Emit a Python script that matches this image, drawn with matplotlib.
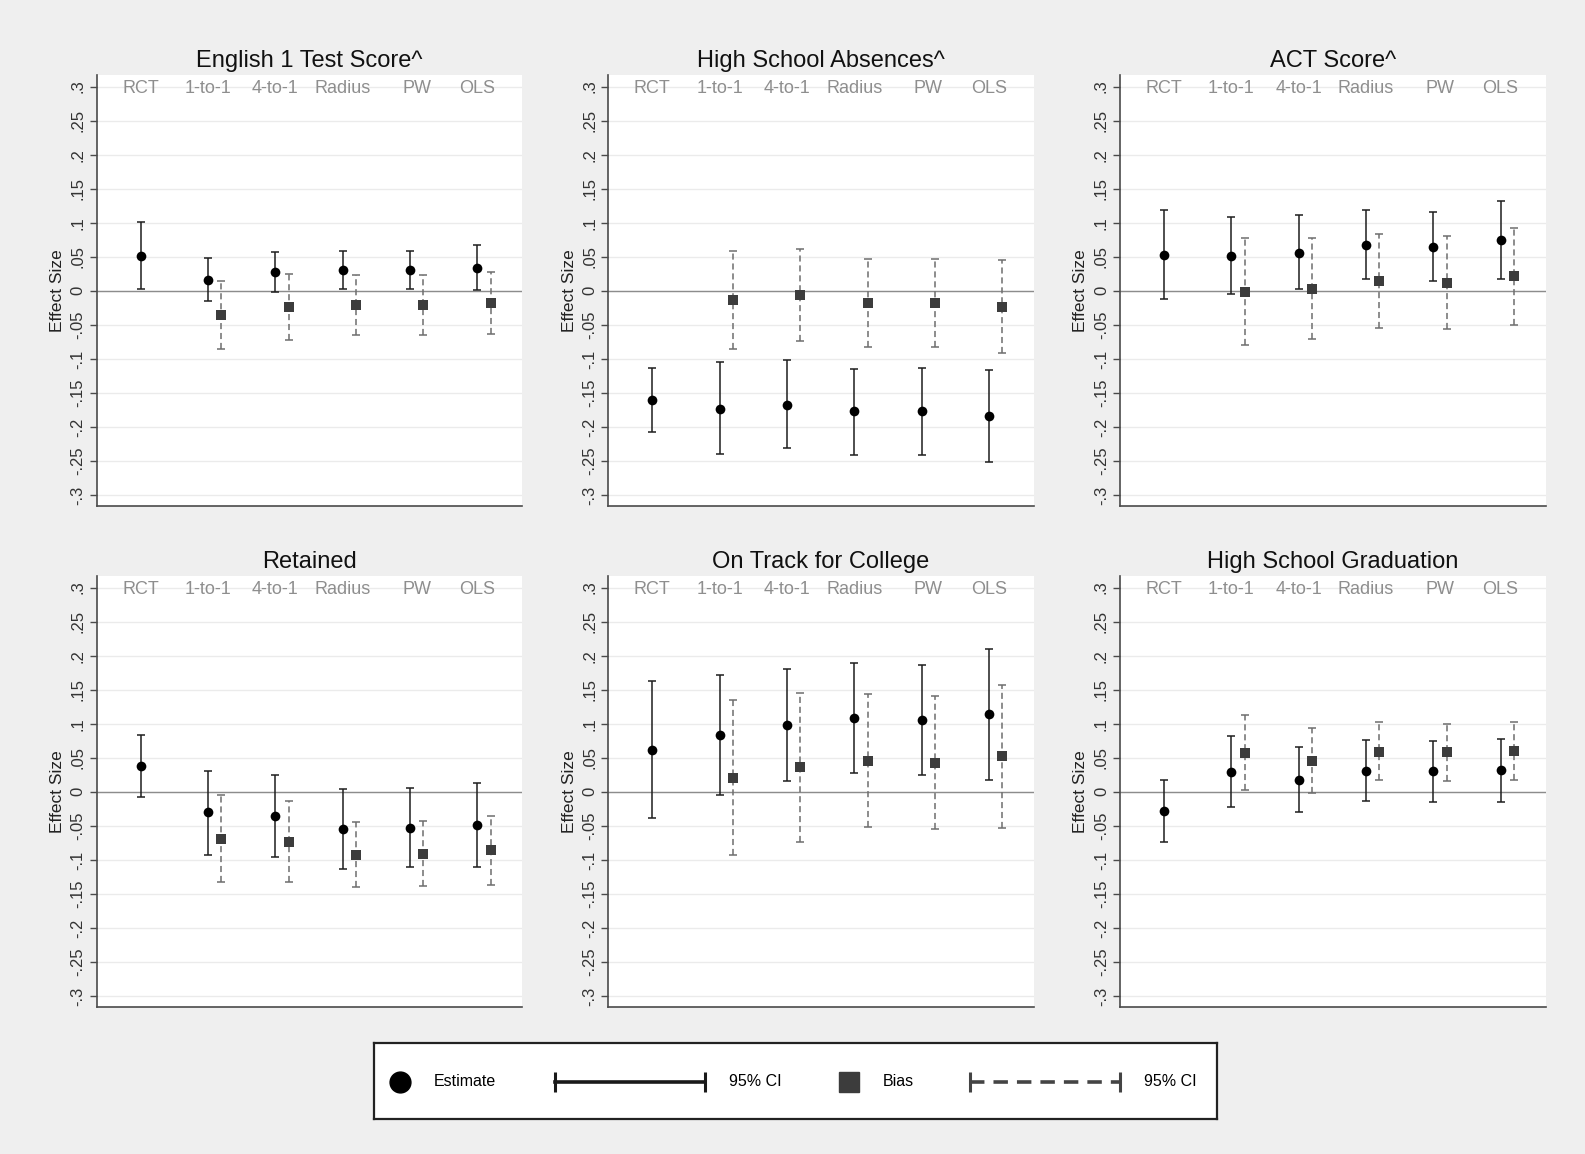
import numpy as np
import matplotlib
matplotlib.use("Agg")
import matplotlib.pyplot as plt
from matplotlib.ticker import FuncFormatter

plt.rcParams['font.family'] = ['Liberation Sans', 'DejaVu Sans']

# ---------------- data ----------------
methods = ["RCT", "1-to-1", "4-to-1", "Radius", "PW", "OLS"]
titles = ["English 1 Test Score^", "High School Absences^", "ACT Score^",
          "Retained", "On Track for College", "High School Graduation"]
yticks = [0.3, 0.25, 0.2, 0.15, 0.1, 0.05, 0.0, -0.05, -0.1, -0.15, -0.2, -0.25, -0.3]

# English 1 Test Score
eng_est = [0.051, 0.016, 0.028, 0.031, 0.031, 0.034]
eng_lo = [0.002, -0.015, -0.001, 0.003, 0.003, 0.001]
eng_hi = [0.101, 0.048, 0.057, 0.059, 0.059, 0.067]
eng_bias = [-0.036, -0.024, -0.021, -0.021, -0.018]
eng_bias_lo = [-0.086, -0.072, -0.065, -0.065, -0.063]
eng_bias_hi = [0.015, 0.025, 0.023, 0.023, 0.028]

# High School Absences
abs_est = [-0.160, -0.173, -0.167, -0.177, -0.177, -0.184]
abs_lo = [-0.207, -0.240, -0.231, -0.241, -0.241, -0.251]
abs_hi = [-0.114, -0.105, -0.101, -0.115, -0.114, -0.116]
abs_bias = [-0.013, -0.006, -0.018, -0.018, -0.024]
abs_bias_lo = [-0.085, -0.074, -0.082, -0.082, -0.091]
abs_bias_hi = [0.059, 0.062, 0.047, 0.047, 0.045]

# ACT Score
act_est = [0.053, 0.051, 0.056, 0.067, 0.065, 0.075]
act_lo = [-0.012, -0.005, 0.002, 0.017, 0.014, 0.018]
act_hi = [0.119, 0.108, 0.111, 0.118, 0.116, 0.132]
act_bias = [-0.002, 0.003, 0.014, 0.012, 0.022]
act_bias_lo = [-0.080, -0.071, -0.054, -0.056, -0.050]
act_bias_hi = [0.077, 0.077, 0.083, 0.080, 0.093]

# Retained
ret_est = [0.038, -0.030, -0.036, -0.055, -0.053, -0.049]
ret_lo = [-0.008, -0.093, -0.096, -0.113, -0.111, -0.110]
ret_hi = [0.083, 0.031, 0.025, 0.004, 0.006, 0.013]
ret_bias = [-0.069, -0.073, -0.093, -0.091, -0.086]
ret_bias_lo = [-0.133, -0.132, -0.140, -0.138, -0.137]
ret_bias_hi = [-0.004, -0.014, -0.045, -0.043, -0.036]

# On Track for College
otc_est = [0.062, 0.083, 0.098, 0.108, 0.106, 0.114]
otc_lo = [-0.039, -0.004, 0.016, 0.027, 0.025, 0.018]
otc_hi = [0.163, 0.171, 0.181, 0.189, 0.187, 0.210]
otc_bias = [0.021, 0.036, 0.046, 0.043, 0.052]
otc_bias_lo = [-0.093, -0.073, -0.052, -0.054, -0.053]
otc_bias_hi = [0.135, 0.145, 0.143, 0.141, 0.157]

# High School Graduation
grad_est = [-0.028, 0.029, 0.018, 0.031, 0.030, 0.032]
grad_lo = [-0.073, -0.022, -0.030, -0.014, -0.015, -0.015]
grad_hi = [0.018, 0.082, 0.066, 0.076, 0.075, 0.078]
grad_bias = [0.057, 0.046, 0.059, 0.058, 0.060]
grad_bias_lo = [0.002, -0.002, 0.017, 0.016, 0.017]
grad_bias_hi = [0.113, 0.094, 0.102, 0.100, 0.102]

panels = [
    (eng_est, eng_lo, eng_hi, eng_bias, eng_bias_lo, eng_bias_hi),
    (abs_est, abs_lo, abs_hi, abs_bias, abs_bias_lo, abs_bias_hi),
    (act_est, act_lo, act_hi, act_bias, act_bias_lo, act_bias_hi),
    (ret_est, ret_lo, ret_hi, ret_bias, ret_bias_lo, ret_bias_hi),
    (otc_est, otc_lo, otc_hi, otc_bias, otc_bias_lo, otc_bias_hi),
    (grad_est, grad_lo, grad_hi, grad_bias, grad_bias_lo, grad_bias_hi),
]

# ---------------- figure ----------------
W, H = 1585, 1154
BG = '#efefef'
fig = plt.figure(figsize=(W / 100, H / 100), dpi=100, facecolor=BG)

col_left = [96.7, 608.3, 1120.0]
ax_w = 425.5
row_top = [75.0, 576.0]
ax_h = 431.0


def fmt_tick(v, pos=None):
    if abs(v) < 1e-9:
        return "0"
    s = f"{v:.2f}".rstrip('0')
    s = s.replace("0.", ".")
    return s


x_est = np.arange(1, len(methods) + 1, dtype=float)
x_bias = x_est[1:] + 0.2
label_offset = [0, 0, 0, 0, 0.1, 0]

for i, (title, data) in enumerate(zip(titles, panels)):
    r, c = divmod(i, 3)
    left = col_left[c] / W
    bottom = 1 - (row_top[r] + ax_h) / H
    ax = fig.add_axes([left, bottom, ax_w / W, ax_h / H])
    ax.set_facecolor('white')
    est, lo, hi, bias, blo, bhi = [np.asarray(d, dtype=float) for d in data]

    ax.set_xlim(0.347, 6.668)
    ax.set_ylim(-0.316, 0.317)
    ax.set_yticks(yticks)
    ax.yaxis.set_major_formatter(FuncFormatter(fmt_tick))
    ax.set_xticks([])
    ax.yaxis.grid(True, color='#ebebeb', lw=1.0, zorder=0)
    ax.set_axisbelow(True)
    ax.axhline(0, color='#8c8c8c', lw=1.0, zorder=1)

    for s in ['top', 'right']:
        ax.spines[s].set_visible(False)
    for s in ['left', 'bottom']:
        ax.spines[s].set_color('#4a4a4a')
        ax.spines[s].set_linewidth(1.2)
    ax.tick_params(axis='y', direction='out', length=5, width=1.0,
                   color='#4a4a4a', labelsize=12, labelcolor='#333333',
                   labelrotation=90, pad=3)
    for lab in ax.get_yticklabels():
        lab.set_va('center')

    ax.set_ylabel("Effect Size", fontsize=12.5, labelpad=4, color='#222222')
    ax.set_title(title, fontsize=17, pad=6, color='#111111')

    for xm, name, off in zip(x_est, methods, label_offset):
        ax.text(xm + off, 0.3, name, ha='center', va='center_baseline',
                color='#8e8e8e', fontsize=13)

    # bias (dashed) first
    eb = ax.errorbar(x_bias, bias, yerr=[bias - blo, bhi - bias], fmt='s',
                     color='#3c3c3c', ecolor='#6e6e6e', ms=6.5,
                     capsize=3, elinewidth=1.1, capthick=1.1, zorder=3)
    eb.lines[2][0].set_linestyle((0, (4, 2.5)))
    eb.lines[0].set_markeredgewidth(0)

    eb2 = ax.errorbar(x_est, est, yerr=[est - lo, hi - est], fmt='o',
                      color='black', ecolor='#1e1e1e', ms=7,
                      capsize=3.2, elinewidth=1.1, capthick=1.1, zorder=4)
    eb2.lines[0].set_markeredgewidth(0)

# ---------------- legend box ----------------
lx0, lx1, ly0, ly1 = 374, 1217, 1043, 1119
lax = fig.add_axes([lx0 / W, 1 - ly1 / H, (lx1 - lx0) / W, (ly1 - ly0) / H])
lax.set_xlim(lx0, lx1)
lax.set_ylim(ly1, ly0)
lax.set_xticks([])
lax.set_yticks([])
lax.set_facecolor('white')
for s in lax.spines.values():
    s.set_color('#222222')
    s.set_linewidth(1.6)

yc = 1081.5
lax.plot([400.3], [yc], 'o', color='black', ms=15)
lax.text(433.6, yc, "Estimate", va='center', ha='left', fontsize=11.5)
lax.plot([555, 704.6], [yc, yc], '-', color='#1a1a1a', lw=2.6)
lax.plot([555, 704.6], [yc, yc], '|', color='#1a1a1a', ms=14, mew=2.2)
lax.text(728.8, yc, "95% CI", va='center', ha='left', fontsize=11.5)
lax.plot([849], [yc], 's', color='#3c3c3c', ms=14)
lax.text(882.5, yc, "Bias", va='center', ha='left', fontsize=11.5)
lax.plot([970.4, 1120], [yc, yc], color='#444444', lw=2.6,
         linestyle=(0, (4, 2.5)))
lax.plot([970.4, 1120], [yc, yc], '|', color='#444444', ms=14, mew=2.2)
lax.text(1144.3, yc, "95% CI", va='center', ha='left', fontsize=11.5)

fig.savefig("out.png", dpi=100, facecolor=BG)
